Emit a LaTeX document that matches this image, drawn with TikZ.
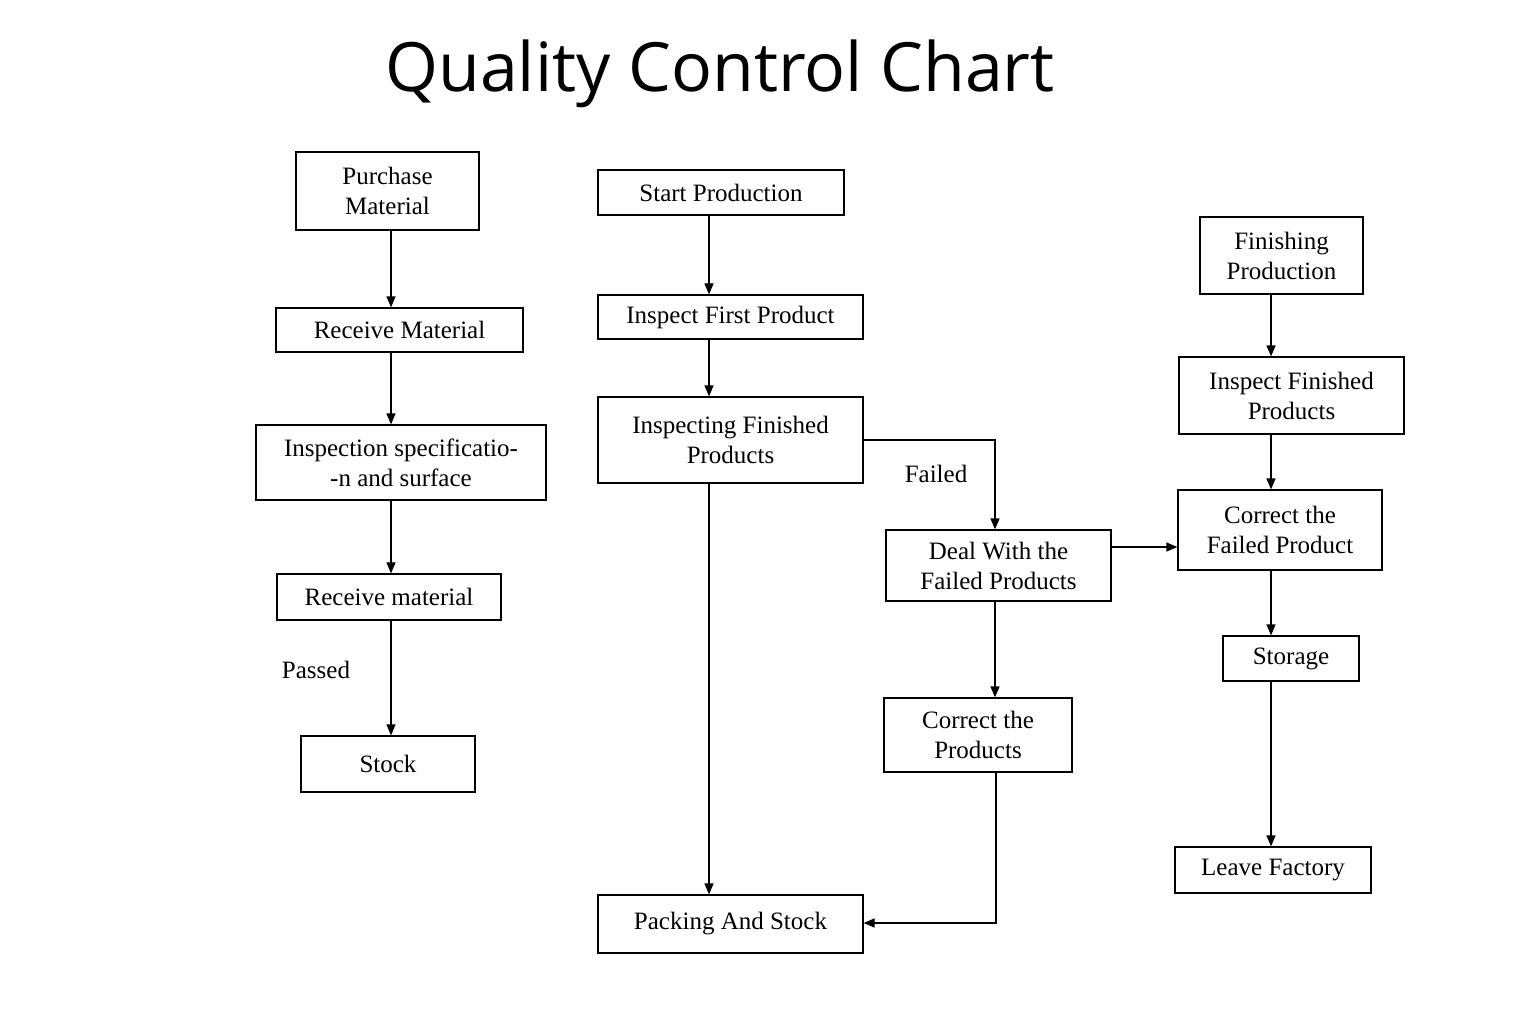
\documentclass[tikz,border=0pt]{standalone}
\usepackage{fontspec}
\setmainfont{Liberation Serif}
\newfontfamily\titlefont{Open Sans}
\usetikzlibrary{arrows.meta}
\begin{document}
\begin{tikzpicture}[x=1pt,y=-1pt,
  box/.style={draw,line width=1.2pt,align=center,font=\fontsize{25}{30}\selectfont,inner sep=0pt},
  arr/.style={line width=1.2pt,-{Triangle[length=11pt,width=9pt]}},
  lbl/.style={font=\fontsize{25}{30}\selectfont}]
\useasboundingbox (0,0) rectangle (1536,1024);
\node[font=\titlefont\fontsize{68}{80}\selectfont] (title) at (720,74) {Quality Control Chart};
\newcommand{\bx}[6]{\node[box,minimum width={#4-#2},minimum height={#5-#3}] (#1) at ({(#2+#4)/2},{(#3+#5)/2}) {#6};}
\bx{pm}{296}{152}{479}{230}{Purchase\\Material}
\bx{rm}{276}{308}{523}{352}{Receive Material}
\bx{is}{256}{425}{546}{500}{Inspection specificatio-\\-n and surface}
\bx{rm2}{277}{574}{501}{620}{Receive material}
\bx{st}{301}{736}{475}{792}{Stock}
\bx{sp}{598}{170}{844}{215}{Start Production}
\bx{ifp}{598}{295}{863}{339}{Inspect First Product}
\bx{ifin}{598}{397}{863}{483}{Inspecting Finished\\Products}
\bx{pas}{598}{895}{863}{953}{Packing And Stock}
\bx{dw}{886}{530}{1111}{601}{Deal With the\\Failed Products}
\bx{cp}{884}{698}{1072}{772}{Correct the\\Products}
\bx{fp}{1200}{217}{1363}{294}{Finishing\\Production}
\bx{ifr}{1179}{357}{1404}{434}{Inspect Finished\\Products}
\bx{cf}{1178}{490}{1382}{570}{Correct the\\Failed Product}
\bx{sto}{1223}{636}{1359}{681}{Storage}
\bx{lf}{1175}{847}{1371}{893}{Leave Factory}
\coordinate (lx) at (391,0);
\coordinate (mx) at (709,0);
\coordinate (dx) at (995,0);
\coordinate (rx) at (1271,0);
\draw[arr] (pm.south -| lx) -- (rm.north -| lx);
\draw[arr] (rm.south -| lx) -- (is.north -| lx);
\draw[arr] (is.south -| lx) -- (rm2.north -| lx);
\draw[arr] (rm2.south -| lx) -- (st.north -| lx);
\node[lbl] (passed) at (316,670) {Passed};
\draw[arr] (sp.south -| mx) -- (ifp.north -| mx);
\draw[arr] (ifp.south -| mx) -- (ifin.north -| mx);
\draw[arr] (ifin.south -| mx) -- (pas.north -| mx);
\coordinate (fy) at (0,440);
\draw[arr] (ifin.east |- fy) -| (dw.north -| dx);
\node[lbl] (failed) at (936,474) {Failed};
\draw[arr] (dw.south -| dx) -- (cp.north -| dx);
\coordinate (py) at (0,923);
\draw[arr] ([xshift=1pt]cp.south -| dx) |- (pas.east |- py);
\coordinate (cy) at (0,547);
\draw[arr] (dw.east |- cy) -- (cf.west |- cy);
\draw[arr] (fp.south -| rx) -- (ifr.north -| rx);
\draw[arr] (ifr.south -| rx) -- (cf.north -| rx);
\draw[arr] (cf.south -| rx) -- (sto.north -| rx);
\draw[arr] (sto.south -| rx) -- (lf.north -| rx);
\end{tikzpicture}
\end{document}
